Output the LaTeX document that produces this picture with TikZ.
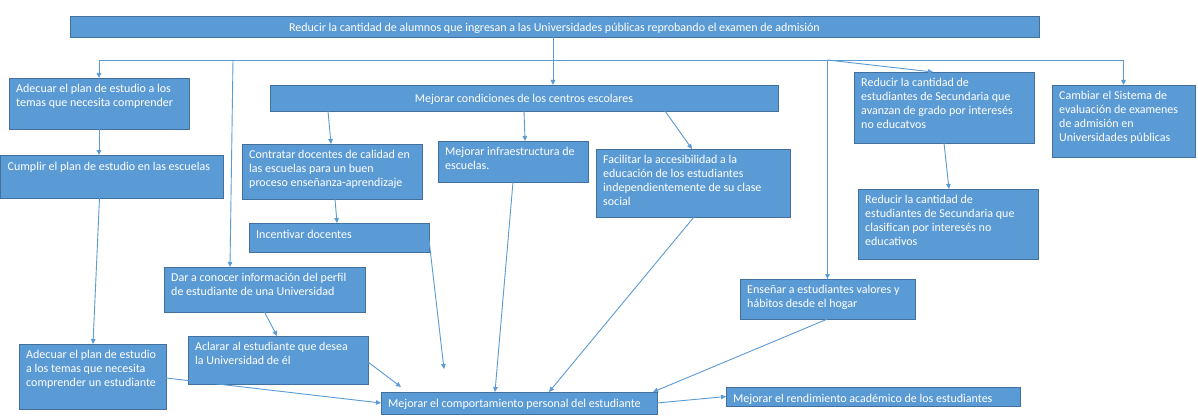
\documentclass[tikz,border=0pt]{standalone}
\usepackage{fontspec}
\setmainfont{Carlito}
\usetikzlibrary{arrows.meta,calc}
\definecolor{boxfill}{HTML}{5B9BD5}
\definecolor{boxline}{HTML}{41719C}
\definecolor{connc}{HTML}{5B9BD5}
\tikzset{
  box/.style={draw=boxline, line width=0.9pt, fill=boxfill, anchor=north west, inner sep=0pt, outer sep=0pt},
  txt/.style={anchor=north west, inner sep=0pt, text=white, align=left,
    font=\fontsize{12}{14.2}\selectfont, execute at begin node=\strut},
  ctxt/.style={inner sep=0pt, text=white, font=\fontsize{12}{14.2}\selectfont},
  link/.style={draw=connc, line width=0.9pt},
  arr/.style={link, -{Triangle[length=5pt,width=4.5pt]}},
}
\newcommand\mybox[6]{%
  \node[box, minimum width={(#4)-(#2)}, minimum height={(#5)-(#3)}] (#1) at (#2,#3) {};
  \node[txt] (#1t) at ($(#1.north west)+(7,5.5)$) {#6};}
\newcommand\mycbox[6]{%
  \node[box, minimum width={(#4)-(#2)}, minimum height={(#5)-(#3)}] (#1) at (#2,#3) {};
  \node[ctxt] (#1t) at ($(#1.center)+(0,1.5)$) {#6};}
\begin{document}
\begin{tikzpicture}[x=1pt,y=-1pt]
\fill[white] (0,0) rectangle (1198,417);
\useasboundingbox (0,0) rectangle (1198,417);

\mycbox{top}{70}{16}{1039}{37}{Reducir la cantidad de alumnos que ingresan a las Universidades públicas reprobando el examen de admisión}
\mybox{a1}{9}{78}{189}{129}{Adecuar el plan de estudio a los\\temas que necesita comprender}
\mybox{a2}{0.5}{155}{223}{198}{Cumplir el plan de estudio en las escuelas}
\mybox{a3}{19}{344}{166}{409}{Adecuar el plan de estudio\\a los temas que necesita\\comprender un estudiante}
\mycbox{m}{270}{85}{778}{111}{Mejorar condiciones de los centros escolares}
\mybox{c1}{242}{144}{422}{199}{Contratar docentes de calidad en\\las escuelas para un buen\\proceso enseñanza-aprendizaje}
\mybox{c2}{438}{141}{588}{182}{Mejorar infraestructura de\\escuelas.}
\mybox{c3}{596}{149}{790}{217}{Facilitar la accesibilidad a la\\educación de los estudiantes\\independientemente de su clase\\social}
\mybox{c4}{249}{223}{429}{252}{Incentivar docentes}
\mybox{d1}{164}{267}{365}{312}{Dar a conocer información del perfil\\de estudiante de una Universidad}
\mybox{d2}{188}{336}{368}{384}{Aclarar al estudiante que desea\\la Universidad de él}
\mybox{b}{381}{392}{657}{414}{Mejorar el comportamiento personal del estudiante}
\mybox{r}{726}{387}{1020}{406}{Mejorar el rendimiento académico de los estudiantes}
\mybox{e}{740}{279}{915}{319}{Enseñar a estudiantes valores y\\hábitos desde el hogar}
\mybox{s1}{854}{72}{1034}{143}{Reducir la cantidad de\\estudiantes de Secundaria que\\avanzan de grado por interesés\\no educatvos}
\mybox{s2}{858}{189}{1038}{259}{Reducir la cantidad de\\estudiantes de Secundaria que\\clasifican por interesés no\\educativos}
\mybox{k}{1052}{85}{1195}{157}{Cambiar el Sistema de\\evaluación de examenes\\de admisión en\\Universidades públicas}

\coordinate (bus) at (553,60);
\coordinate (c4end) at (444,369);

\draw[arr] (bus |- top.south) -- (bus |- m.north);
\draw[link] (a1.north |- bus) -- (k.north |- bus);
\draw[arr] (a1.north |- bus) -- (a1.north);
\draw[arr] (k.north |- bus) -- (k.north);
\draw[arr] (e.north |- bus) -- (e.north);
\draw[arr] (e.north |- bus) -- ($(s1.north west)+(79,0)$);
\draw[arr] ($(d1.north west |- bus)+(69,0)$) -- ($(d1.north west)+(66,0)$);

\draw[arr] (a1.south) -- (a1.south |- a2.north);
\draw[arr] ($(a2.south west)+(99,0)$) -- ($(a3.north west)+(74,0)$);
\draw[arr] ($(m.south west)+(58,0)$) -- ($(c1.north west)+(89,0)$);
\draw[arr] ($(m.south west)+(254,0)$) -- ($(c2.north west)+(87,0)$);
\draw[arr] ($(m.south west)+(395,0)$) -- ($(c3.north west)+(96,0)$);
\draw[arr] ($(c1.south west)+(93,0)$) -- ($(c4.north west)+(88,0)$);
\draw[arr] ($(c4.north east)+(0,17)$) -- (c4end);
\draw[arr] ($(c2.south west)+(75,0)$) -- ($(b.north west)+(114,0)$);
\draw[arr] ($(c3.south west)+(98,0)$) -- ($(b.north west)+(168,0)$);
\draw[arr] (e.south) -- ($(b.north east)+(-4,0)$);
\draw[arr] (d1.south) -- ($(d2.north west)+(89,0)$);
\draw[arr] ($(d2.north east)+(0,26)$) -- ($(b.north west)+(20,-5)$);
\draw[arr] ($(a3.north east)+(0,34)$) -- (b.west);
\draw[arr] (b.east) -- (r.west);
\draw[arr] (s1.south) -- ($(s2.north west)+(91,0)$);
\end{tikzpicture}
\end{document}
